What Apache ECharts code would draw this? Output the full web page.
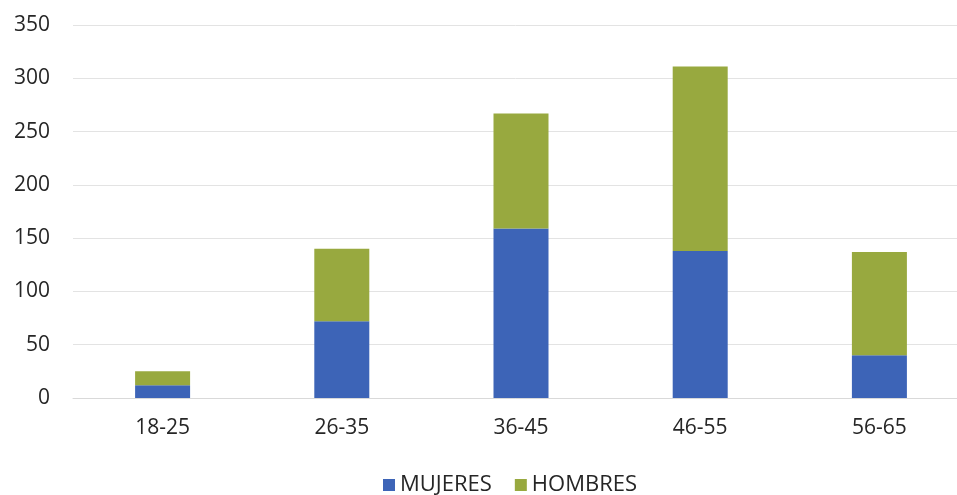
<!DOCTYPE html>
<html>
<head>
<meta charset="utf-8">
<script src="https://cdn.jsdelivr.net/npm/echarts@6/dist/echarts.min.js"></script>
<style>
  html, body { margin: 0; padding: 0; background: #ffffff; }
  #chart { width: 957px; height: 495px; }
</style>
</head>
<body>
<div id="chart"></div>
<script>
// Age groups and counts per sex (stacked)
const categories = ['18-25', '26-35', '36-45', '46-55', '56-65'];
const mujeres = [12, 72, 159, 138, 40];
const hombres = [13, 68, 108, 173, 97];
const yTicks = { min: 0, max: 350, interval: 50 };

const FONT = '"Open Sans", "Liberation Sans", sans-serif';
const TEXT = '#262626';

const chart = echarts.init(document.getElementById('chart'), null, { renderer: 'canvas' });
chart.setOption({
  backgroundColor: '#ffffff',
  animation: false,
  grid: {
    left: 73, width: 896, top: 25, height: 373,
    containLabel: false, outerBoundsMode: 'none'
  },
  legend: {
    top: 469,
    left: 378,
    itemWidth: 12,
    itemHeight: 12,
    itemGap: 23,
    icon: 'rect',
    textStyle: { fontFamily: FONT, fontSize: 22, color: TEXT, lineHeight: 22 },
    data: ['MUJERES', 'HOMBRES']
  },
  xAxis: {
    type: 'category',
    data: categories,
    axisLine: { show: true, lineStyle: { color: '#d9d9d9', width: 1 } },
    axisTick: { show: false },
    axisLabel: { fontFamily: FONT, fontSize: 21, color: TEXT, margin: 20 }
  },
  yAxis: {
    type: 'value',
    min: yTicks.min,
    max: yTicks.max,
    interval: yTicks.interval,
    axisLine: { show: false },
    axisTick: { show: false },
    splitLine: { lineStyle: { color: '#e3e3e3', width: 1 } },
    axisLabel: { fontFamily: FONT, fontSize: 21, color: TEXT, margin: 23 }
  },
  series: [
    {
      name: 'MUJERES',
      type: 'bar',
      stack: 'total',
      data: mujeres,
      barWidth: 55,
      itemStyle: { color: '#3d64b7' }
    },
    {
      name: 'HOMBRES',
      type: 'bar',
      stack: 'total',
      data: hombres,
      barWidth: 55,
      itemStyle: { color: '#98a93f' }
    }
  ]
});
</script>
</body>
</html>
